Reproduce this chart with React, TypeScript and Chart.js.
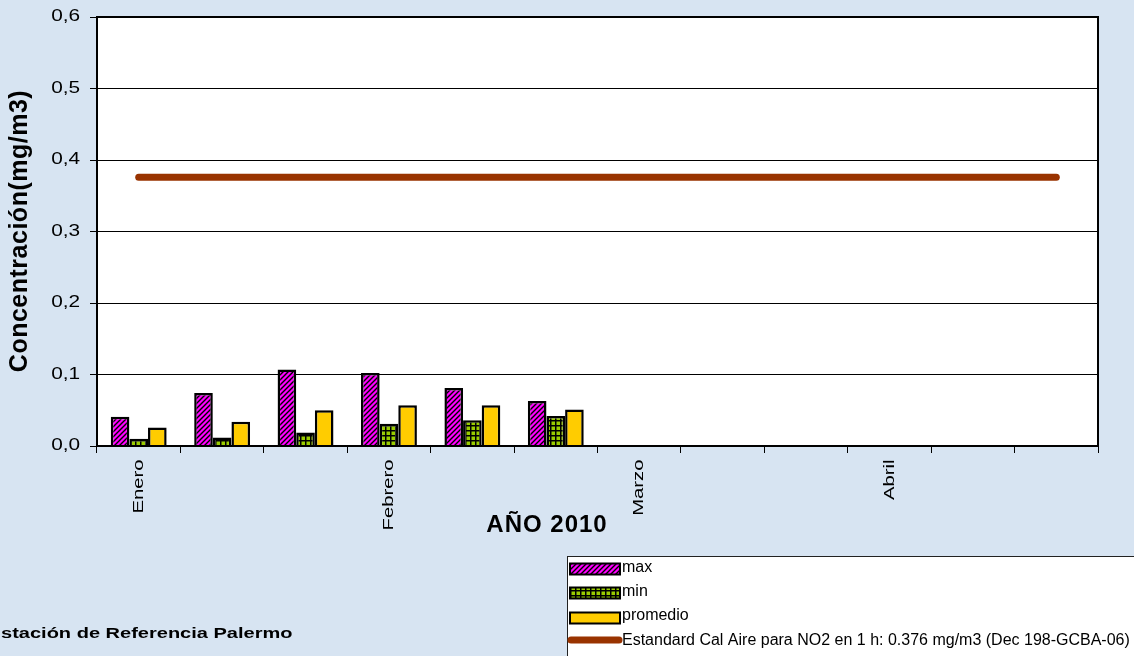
import React, { useEffect, useRef } from 'react';
import { Chart, registerables } from 'chart.js';

Chart.register(...registerables);

const FONT = '"Liberation Sans", Arial, Helvetica, sans-serif';

const categories = ['Enero', '', '', 'Febrero', '', '', 'Marzo', '', '', 'Abril', '', ''];
const maxValues = [0.041, 0.074, 0.107, 0.102, 0.081, 0.063, null, null, null, null, null, null];
const minValues = [0.010, 0.012, 0.019, 0.031, 0.036, 0.042, null, null, null, null, null, null];
const promedioValues = [0.026, 0.034, 0.050, 0.057, 0.057, 0.051, null, null, null, null, null, null];
const standardValues = [0.376, 0.376, 0.376, 0.376, 0.376, 0.376, 0.376, 0.376, 0.376, 0.376, 0.376, 0.376];
const yTickLabels = ['0,0', '0,1', '0,2', '0,3', '0,4', '0,5', '0,6'];

const seriesNames = ['max', 'min', 'promedio', 'Estandard Cal Aire para NO2 en 1 h: 0.376 mg/m3 (Dec 198-GCBA-06)'];
const yTitle = 'Concentración(mg/m3)';
const xTitle = 'AÑO 2010';
const footerText = 'stación de Referencia Palermo';

const MAGENTA = '#ff00ff';
const GREEN = '#99cc00';
const YELLOW = '#ffcc00';
const LINE = '#993300';

function makeHatch(): CanvasPattern {
  const c = document.createElement('canvas');
  c.width = 5;
  c.height = 5;
  const g = c.getContext('2d')!;
  g.fillStyle = MAGENTA;
  g.fillRect(0, 0, 5, 5);
  g.strokeStyle = '#000';
  g.lineWidth = 1.4;
  g.beginPath();
  g.moveTo(-1, 6);
  g.lineTo(6, -1);
  g.moveTo(-1, 1);
  g.lineTo(1, -1);
  g.moveTo(4, 6);
  g.lineTo(6, 4);
  g.stroke();
  return g.createPattern(c, 'repeat')!;
}

function makeGrid(): CanvasPattern {
  const c = document.createElement('canvas');
  c.width = 5;
  c.height = 5;
  const g = c.getContext('2d')!;
  g.fillStyle = GREEN;
  g.fillRect(0, 0, 5, 5);
  g.fillStyle = '#000';
  g.fillRect(0, 0, 5, 1.5);
  g.fillRect(0, 0, 1.5, 5);
  return g.createPattern(c, 'repeat')!;
}

export default function App() {
  const ref = useRef<HTMLCanvasElement | null>(null);

  useEffect(() => {
    document.body.style.margin = '0';
    const canvas = ref.current;
    if (!canvas) return;
    const hatch = makeHatch();
    const grid = makeGrid();

    const decor = {
      id: 'decor',
      afterLayout(chart: any) {
        ['x', 'y'].forEach((id) => {
          const s: any = chart.scales[id];
          if (!s || s.__patched) return;
          const orig = s.drawLabels.bind(s);
          s.drawLabels = (area: any) => {
            const ctx: any = s.ctx;
            ctx.save();
            if (id === 'x') {
              ctx.translate(0, s.top);
              ctx.scale(1, 1.35);
              ctx.translate(0, -s.top);
            } else {
              ctx.translate(s.right, 0);
              ctx.scale(1.3, 1);
              ctx.translate(-s.right, 0);
            }
            orig(area);
            ctx.restore();
          };
          s.__patched = true;
        });
      },
      beforeDraw(chart: any) {
        const { ctx, chartArea: a } = chart;
        ctx.save();
        ctx.fillStyle = '#ffffff';
        ctx.fillRect(a.left, a.top, a.right - a.left, a.bottom - a.top);
        ctx.restore();
      },
      afterDraw(chart: any) {
        const { ctx, chartArea: a } = chart;
        ctx.save();
        // plot frame
        ctx.strokeStyle = '#000';
        ctx.lineWidth = 2;
        ctx.strokeRect(a.left, a.top, a.right - a.left, a.bottom - a.top);

        ctx.fillStyle = '#000';
        // y title
        ctx.save();
        ctx.translate(20, 231);
        ctx.rotate(-Math.PI / 2);
        ctx.font = `bold 25px ${FONT}`;
        ctx.textAlign = 'center';
        ctx.textBaseline = 'middle';
        (ctx as any).letterSpacing = '0.5px';
        ctx.fillText(yTitle, 0, 0);
        ctx.restore();

        // x title
        ctx.save();
        ctx.font = `bold 24px ${FONT}`;
        ctx.textAlign = 'center';
        ctx.textBaseline = 'middle';
        (ctx as any).letterSpacing = '1px';
        ctx.fillText(xTitle, 547, 525);
        ctx.restore();

        // footer text (horizontally stretched like the source)
        ctx.save();
        ctx.translate(1, 634);
        ctx.scale(1.43, 1);
        ctx.font = `bold 14px ${FONT}`;
        ctx.textAlign = 'left';
        ctx.textBaseline = 'middle';
        ctx.fillText(footerText, 0, 0);
        ctx.restore();

        // legend box
        ctx.save();
        ctx.fillStyle = '#ffffff';
        ctx.fillRect(567.5, 556.5, 600, 110);
        ctx.strokeStyle = '#222';
        ctx.lineWidth = 1;
        ctx.strokeRect(567.5, 556.5, 600, 110);

        const fills: any[] = [hatch, grid, YELLOW];
        const rowsY = [569, 593, 618];
        for (let i = 0; i < 3; i++) {
          const y = rowsY[i];
          ctx.fillStyle = fills[i];
          ctx.fillRect(570, y - 5.5, 50, 11);
          ctx.strokeStyle = '#000';
          ctx.lineWidth = 2;
          ctx.strokeRect(570, y - 5.5, 50, 11);
        }
        ctx.strokeStyle = LINE;
        ctx.lineWidth = 7;
        ctx.lineCap = 'round';
        ctx.beginPath();
        ctx.moveTo(571, 640);
        ctx.lineTo(619, 640);
        ctx.stroke();

        ctx.fillStyle = '#000';
        ctx.font = `16px ${FONT}`;
        ctx.textAlign = 'left';
        ctx.textBaseline = 'middle';
        const textY = [568, 592, 616, 641];
        for (let i = 0; i < 4; i++) {
          ctx.fillText(seriesNames[i], 622, textY[i]);
        }
        ctx.restore();
        ctx.restore();
      },
    };

    const chart = new Chart(canvas, {
      type: 'bar',
      data: {
        labels: categories,
        datasets: [
          {
            type: 'line',
            label: seriesNames[3],
            data: standardValues,
            borderColor: LINE,
            backgroundColor: LINE,
            borderWidth: 7,
            borderCapStyle: 'round',
            pointRadius: 0,
            pointHoverRadius: 0,
            fill: false,
            order: 0,
          } as any,
          {
            label: seriesNames[0],
            data: maxValues,
            backgroundColor: hatch,
            borderColor: '#000',
            borderWidth: 2.5,
            categoryPercentage: 0.67,
            barPercentage: 1,
            order: 1,
          },
          {
            label: seriesNames[1],
            data: minValues,
            backgroundColor: grid,
            borderColor: '#000',
            borderWidth: 2.5,
            categoryPercentage: 0.67,
            barPercentage: 1,
            order: 1,
          },
          {
            label: seriesNames[2],
            data: promedioValues,
            backgroundColor: YELLOW,
            borderColor: '#000',
            borderWidth: 2.5,
            categoryPercentage: 0.67,
            barPercentage: 1,
            order: 1,
          },
        ],
      },
      options: {
        responsive: false,
        animation: false,
        events: [],
        layout: { padding: { left: 0, top: 17, right: 36, bottom: 0 } },
        plugins: {
          legend: { display: false },
          tooltip: { enabled: false },
          title: { display: false },
        },
        scales: {
          x: {
            type: 'category',
            offset: true,
            grid: {
              display: true,
              offset: true,
              drawOnChartArea: false,
              drawTicks: true,
              tickLength: 7,
              color: '#000',
              tickColor: '#000',
              lineWidth: 1,
            },
            border: { display: true, color: '#000', width: 2 },
            ticks: {
              autoSkip: false,
              maxRotation: 90,
              minRotation: 90,
              padding: 3,
              color: '#000',
              font: { family: FONT, size: 15 },
            },
            afterFit: (s: any) => {
              s.height = 210;
            },
          },
          y: {
            min: 0,
            max: 0.6,
            grid: {
              color: '#000',
              tickColor: '#000',
              lineWidth: 1,
              drawTicks: true,
              tickLength: 7,
            },
            border: { display: true, color: '#000', width: 2 },
            ticks: {
              stepSize: 0.1,
              padding: 6,
              color: '#000',
              font: { family: FONT, size: 16 },
              callback: (_v: any, i: number) => yTickLabels[i],
            },
            afterFit: (s: any) => {
              s.width = 97;
            },
          },
        },
      } as any,
      plugins: [decor as any],
    });

    return () => {
      chart.destroy();
    };
  }, []);

  return (
    <div
      style={{
        position: 'fixed',
        left: 0,
        top: 0,
        width: 1134,
        height: 656,
        overflow: 'hidden',
        background: '#d7e4f2',
      }}
    >
      <canvas ref={ref} width={1134} height={656} style={{ display: 'block' }} />
    </div>
  );
}
